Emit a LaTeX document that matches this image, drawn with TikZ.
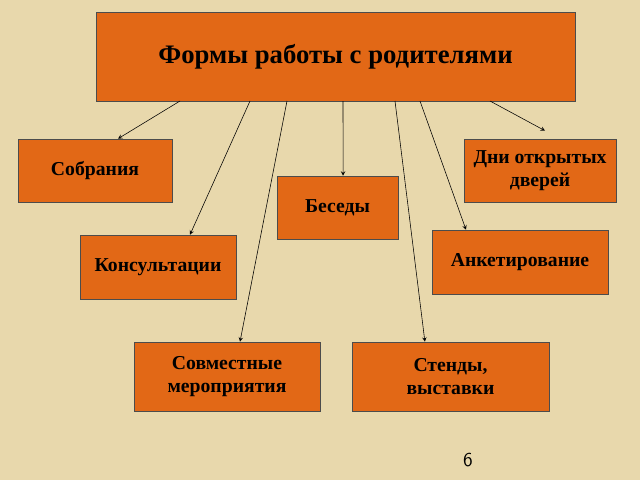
\documentclass[tikz,border=0pt]{standalone}
\usepackage{fontspec}
\setmainfont{Liberation Serif}
\definecolor{bgbeige}{RGB}{232,216,172}
\definecolor{boxorange}{RGB}{226,104,22}
\tikzset{
  formbox/.style={draw=black!70, fill=boxorange, inner sep=0pt, align=center,
    font=\bfseries\fontsize{14}{16}\selectfont},
  link/.style={draw, >=stealth, ->, thin}
}
\begin{document}
\begin{tikzpicture}[x=0.025cm, y=-0.025cm]

    % background
    \fill[bgbeige] (0,0) rectangle (640,480);
    \useasboundingbox (0,0) rectangle (640,480);

    % boxes
    \node[formbox, minimum width=11.975cm, minimum height=2.225cm,
      font=\bfseries\fontsize{19}{22}\selectfont] (main) at (335.5,56.5) {Формы работы с родителями};
    \node[formbox, minimum width=3.85cm, minimum height=1.575cm] (sobr) at (95,170.5) {Собрания};
    \node[formbox, minimum width=3.9cm, minimum height=1.6cm] (kons) at (158,267) {Консультации};
    \node[formbox, minimum width=3.025cm, minimum height=1.575cm] (bes) at (337.5,207.5) {Беседы};
    \node[formbox, minimum width=3.8cm, minimum height=1.575cm] (dni) at (540,170.5) {Дни открытых\\дверей};
    \node[formbox, minimum width=4.4cm, minimum height=1.6cm] (anket) at (520,262) {Анкетирование};
    \node[formbox, minimum width=4.65cm, minimum height=1.725cm] (sovm) at (227,376.5) {Совместные\\мероприятия};
    \node[formbox, minimum width=4.925cm, minimum height=1.725cm] (stend) at (450.5,376.5) {Стенды,\\выставки};

    % start points
    \coordinate (a1) at (180,101);
    \coordinate (a2) at (250,101);
    \coordinate (a3) at (287,101);
    \coordinate (a4) at (343,101);
    \coordinate (a5) at (395,101);
    \coordinate (a6) at (420,101);
    \coordinate (a7) at (490,101);

    % arrows
    \draw[link] (a1) -- ([xshift=0.575cm]sobr.north);
    \draw[link] (a2) -- ([xshift=0.8cm]kons.north);
    \draw[link] (a3) -- ([xshift=0.325cm]sovm.north);
    \draw[link] (a4) -- ([xshift=0.14cm]bes.north);
    \draw[link] (a5) -- ([xshift=-0.64cm]stend.north);
    \draw[link] (a6) -- ([xshift=-1.35cm]anket.north);
    \draw[link] (a7) -- ([xshift=0.125cm, yshift=0.2cm]dni.north);

    % page number
    \node[font=\sffamily\fontsize{14}{16}\selectfont] (page) at (468,460) {6};

\end{tikzpicture}
\end{document}
